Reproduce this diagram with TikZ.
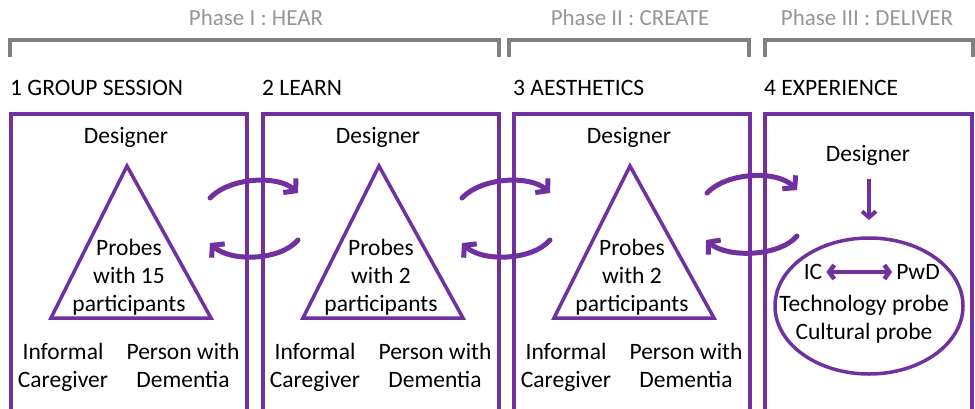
\documentclass[tikz,border=0pt]{standalone}
\usepackage{fontspec}
\setmainfont{Carlito}
\usetikzlibrary{arrows.meta,shapes.geometric}
\definecolor{vio}{RGB}{112,48,160}
\definecolor{brk}{RGB}{128,128,128}
\definecolor{phs}{RGB}{150,150,150}
\begin{document}
\begin{tikzpicture}[x=1pt,y=-1pt,
  txt/.style={font=\fontsize{23.5}{28}\selectfont, text=black, align=center, inner sep=0pt},
  phase/.style={font=\fontsize{23}{28}\selectfont, text=phs, inner sep=0pt},
  title/.style={font=\fontsize{23.5}{28}\selectfont, text=black, anchor=west, inner sep=0pt},
  box/.style={draw=vio, line width=3.5pt},
  bracket/.style={draw=brk, line width=3.5pt},
  tri/.style={draw=vio, line width=3.5pt, line join=miter},
  cyc/.style={draw=vio, line width=5pt, line cap=round, -{Straight Barb[length=8pt,width=19pt,line width=5pt]}},
  dbl/.style={draw=vio, line width=4.5pt, {Straight Barb[length=5pt,width=14pt]}-{Straight Barb[length=5pt,width=14pt]}},
  down/.style={draw=vio, line width=4pt, -{Straight Barb[length=6pt,width=14pt]}}]
\useasboundingbox (0,0) rectangle (975,408);
\clip (0,0) rectangle (975,408);
\fill[white] (0,0) rectangle (975,408);

% phases
\node[phase] (p1) at (256,18) {Phase I : HEAR};
\node[phase] (p2) at (630,18) {Phase II : CREATE};
\node[phase] (p3) at (867,18) {Phase III : DELIVER};
\draw[bracket] (10,57) -- (10,40) -- (499,40) -- (499,57);
\draw[bracket] (509,57) -- (509,40) -- (749,40) -- (749,57);
\draw[bracket] (765,57) -- (765,40) -- (973,40) -- (973,57);

% titles
\node[title] (t1) at (10,88) {1 GROUP SESSION};
\node[title] (t2) at (262,88) {2 LEARN};
\node[title] (t3) at (513,88) {3 AESTHETICS};
\node[title] (t4) at (764,88) {4 EXPERIENCE};

% boxes
\draw[box] (11,420) -- (11,114) -- (247,114) -- (247,420);
\draw[box] (263,420) -- (263,114) -- (499,114) -- (499,420);
\draw[box] (514,420) -- (514,114) -- (750,114) -- (750,420);
\draw[box] (765,420) -- (765,114) -- (972,114) -- (972,420);

% box contents 1-3
\foreach \o/\n/\k in {0/15/a,252/2/b,503/2/c}{
  \node[txt] (des\k) at (126+\o,137) {Designer};
  \draw[tri] (127+\o,166) -- (211+\o,318) -- (51+\o,318) -- cycle;
  \node[txt] (prb\k) at (129+\o,277) {Probes\\with \n\\participants};
  \node[txt, anchor=north] (ic\k) at (63+\o,343) {Informal\\Caregiver};
  \node[txt, anchor=north] (pwd\k) at (183+\o,343) {Person with\\Dementia};
}

% cycle arrows
\draw[cyc] (210,198) .. controls (230,177) and (278,175) .. (298,193);
\draw[cyc] (298,240) .. controls (280,261) and (230,262) .. (210,243);
\draw[cyc] (462,198) .. controls (482,177) and (530,175) .. (550,193);
\draw[cyc] (550,240) .. controls (532,261) and (482,262) .. (462,243);
\draw[cyc] (707,193) .. controls (727,172) and (777,170) .. (797,190);
\draw[cyc] (797,236) .. controls (779,257) and (727,258) .. (706,240);

% box 4
\node[txt] (des4) at (868,155) {Designer};
\node[draw=vio, line width=3.5pt, ellipse, minimum width=188pt, minimum height=136pt, inner sep=0pt] (ell) at (869,306) {};
\coordinate (arrA) at (869,179);
\coordinate (arrB) at (869,220);
\draw[down] (arrA) -- (arrB);
\node[txt] (ic4) at (813,272) {IC};
\node[txt] (pwd4) at (918,272) {PwD};
\draw[dbl] ([xshift=4pt]ic4.east) -- ([xshift=-4pt]pwd4.west);
\node[txt] (tech) at (864,319) {Technology probe\\Cultural probe};
\end{tikzpicture}
\end{document}
